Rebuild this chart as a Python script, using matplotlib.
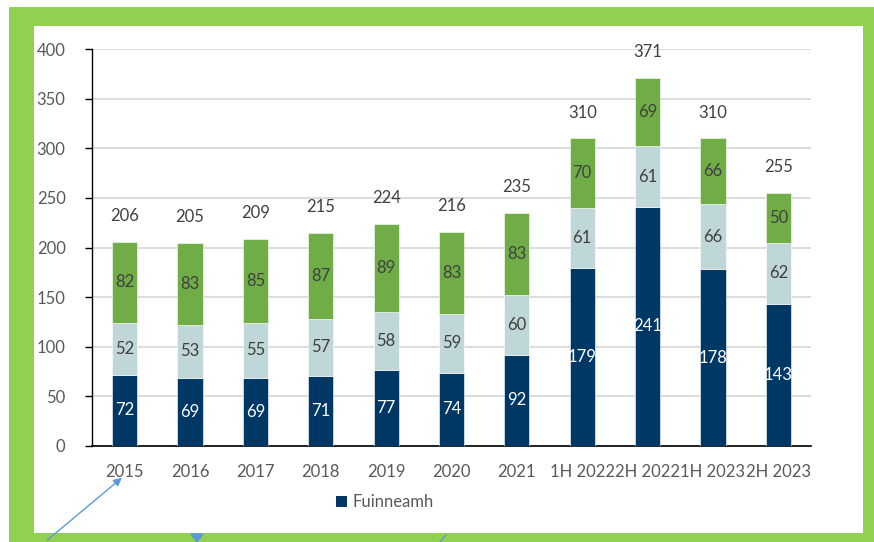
import matplotlib
matplotlib.use("Agg")
import matplotlib.pyplot as plt
from matplotlib.patches import Rectangle, Patch
import numpy as np

categories = ["2015", "2016", "2017", "2018", "2019", "2020", "2021",
              "1H 2022", "2H 2022", "1H 2023", "2H 2023"]
navy_vals = [72, 69, 69, 71, 77, 74, 92, 179, 241, 178, 143]
light_vals = [52, 53, 55, 57, 58, 59, 60, 61, 61, 66, 62]
green_vals = [82, 83, 85, 87, 89, 83, 83, 70, 69, 66, 50]
totals = [206, 205, 209, 215, 224, 216, 235, 310, 371, 310, 255]
legend_label = "Fuinneamh"

NAVY = "#003865"
LIGHT = "#BFD7D8"
GREEN = "#70AD47"
TXT = "#404040"
TICK = "#595959"

plt.rcParams['font.family'] = ['Lato', 'DejaVu Sans']

W, H = 874, 542
fig = plt.figure(figsize=(W / 100, H / 100), dpi=100)
fig.patch.set_facecolor("white")

# green frame and white panel
fig.patches.append(Rectangle((9 / W, 0), (W - 9) / W, (H - 7) / H, transform=fig.transFigure,
                             facecolor="#92D050", edgecolor="none", zorder=-2))
fig.patches.append(Rectangle((34 / W, 1 - 533 / H), (863 - 34) / W, (533 - 26) / H,
                             transform=fig.transFigure, facecolor="white", edgecolor="none", zorder=-1))

ax = fig.add_axes([92 / W, 1 - 446 / H, (811 - 92) / W, (446 - 49) / H])
ax.set_facecolor("none")

x = np.arange(len(categories))
bw = 0.385
navy = np.array(navy_vals)
light = np.array(light_vals)
green = np.array(green_vals)

ax.bar(x, navy, bw, color=NAVY, edgecolor="white", linewidth=0.4, zorder=3)
ax.bar(x, light, bw, bottom=navy, color=LIGHT, edgecolor="white", linewidth=0.4, zorder=3)
ax.bar(x, green, bw, bottom=navy + light, color=GREEN, edgecolor="white", linewidth=0.4, zorder=3)

fs = 12
for i in range(len(x)):
    ax.text(x[i], navy[i] / 2, str(navy[i]), ha="center", va="center", color="white", fontsize=fs, zorder=4)
    ax.text(x[i], navy[i] + light[i] / 2, str(light[i]), ha="center", va="center", color=TXT, fontsize=fs, zorder=4)
    ax.text(x[i], navy[i] + light[i] + green[i] / 2, str(green[i]), ha="center", va="center", color=TXT, fontsize=fs, zorder=4)
    ax.text(x[i], totals[i] + 26, str(totals[i]), ha="center", va="center", color=TXT, fontsize=fs, zorder=4)

ax.set_xlim(-0.5, len(categories) - 0.5)
ax.set_ylim(0, 400)
ax.set_yticks(np.arange(0, 401, 50))
ax.set_xticks(x)
ax.set_xticklabels(categories)
ax.grid(axis="y", color="#D9D9D9", linewidth=1.3, zorder=0)
ax.set_axisbelow(True)
for s in ["top", "right"]:
    ax.spines[s].set_visible(False)
ax.spines["left"].set_color("black")
ax.spines["bottom"].set_color("black")
ax.spines["left"].set_linewidth(1.0)
ax.spines["bottom"].set_linewidth(1.2)
ax.tick_params(axis="y", length=5, width=1, color="black", labelcolor=TICK, labelsize=fs, pad=14)
ax.tick_params(axis="x", length=0, labelcolor=TICK, labelsize=fs, pad=13)

fig.legend(handles=[Patch(facecolor=NAVY, edgecolor="none")], labels=[legend_label],
           loc="center", bbox_to_anchor=(385 / W, 1 - 502 / H), frameon=False,
           fontsize=fs, labelcolor=TICK, handlelength=0.65, handleheight=0.65, handletextpad=0.35)

# decorative blue arrow marks from the screenshot
BLUE = "#5B9BD5"
fig.add_artist(matplotlib.patches.FancyArrowPatch((45 / W, 0.0), (124 / W, 1 - 476 / H),
                                                  transform=fig.transFigure, arrowstyle="-|>",
                                                  mutation_scale=12, color=BLUE, linewidth=1.0))
fig.add_artist(matplotlib.patches.Polygon([(191 / W, 1 - 534 / H), (203 / W, 1 - 534 / H), (197 / W, 1 - 542 / H)],
                                          closed=True, transform=fig.transFigure, color=BLUE))
fig.add_artist(matplotlib.lines.Line2D([440 / W, 446 / W], [0.0, 1 - 535 / H], transform=fig.transFigure,
                                       color=BLUE, linewidth=1.0))

fig.savefig("out.png", dpi=100, facecolor=fig.get_facecolor())
